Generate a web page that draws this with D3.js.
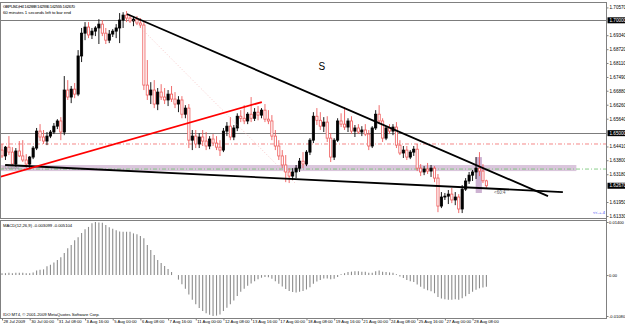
<!DOCTYPE html>
<html>
<head>
<meta charset="utf-8">
<script src="https://cdn.jsdelivr.net/npm/d3@7"></script>
<style>
html, body { margin: 0; padding: 0; background: #fff; }
svg { display: block; font-family: "Liberation Sans", Arial, sans-serif; }
</style>
</head>
<body>
<div id="chart"></div>
<script>
// GBPUSD H4 bars, 28 Jul 16:00 -> 28 Aug 16:00 2009
const opens = [
  1.6425,1.6399,1.6438,1.6416,1.6363,1.6421,1.6399,1.6381,1.6363,1.6394,
  1.6434,1.6509,1.6483,1.6465,1.6487,1.6505,1.6531,1.6554,1.6505,1.6691,
  1.6660,1.6695,1.6673,1.6842,1.6943,1.6970,1.6935,1.6952,1.6966,1.6983,
  1.6943,1.6912,1.6939,1.6952,1.6966,1.7001,1.7023,1.7010,1.6997,1.7005,
  1.6988,1.6979,1.6713,1.6669,1.6691,1.6629,1.6682,1.6660,1.6647,1.6673,
  1.6651,1.6629,1.6647,1.6584,1.6611,1.6469,1.6487,1.6452,1.6483,1.6465,
  1.6443,1.6474,1.6456,1.6438,1.6425,1.6509,1.6531,1.6483,1.6523,1.6575,
  1.6566,1.6554,1.6584,1.6566,1.6593,1.6580,1.6602,1.6562,1.6554,1.6487,
  1.6443,1.6399,1.6359,1.6328,1.6310,1.6328,1.6345,1.6376,1.6363,1.6416,
  1.6469,1.6575,1.6557,1.6531,1.6549,1.6478,1.6394,1.6469,1.6554,1.6540,
  1.6527,1.6554,1.6509,1.6523,1.6505,1.6514,1.6496,1.6443,1.6523,1.6584,
  1.6554,1.6478,1.6523,1.6509,1.6527,1.6447,1.6412,1.6425,1.6394,1.6416,
  1.6429,1.6345,1.6328,1.6341,1.6332,1.6345,1.6301,1.6177,1.6217,1.6221,
  1.6230,1.6204,1.6217,1.6164,1.6252,1.6288,1.6314,1.6328,1.6345,1.6332,1.62888
];
const highs = [
  1.6452,1.6443,1.6487,1.6438,1.6434,1.6465,1.6469,1.6407,1.6399,1.6443,
  1.6523,1.6540,1.6514,1.6505,1.6514,1.6545,1.6562,1.6571,1.6753,1.6735,
  1.6709,1.6722,1.6868,1.6966,1.6992,1.6992,1.6966,1.6974,1.7005,1.7001,
  1.6966,1.6957,1.6961,1.6983,1.7032,1.7036,1.7041,1.7023,1.7019,1.7019,
  1.7010,1.7001,1.6824,1.6726,1.6735,1.6700,1.6717,1.6700,1.6691,1.6709,
  1.6682,1.6664,1.6664,1.6624,1.6629,1.6514,1.6514,1.6500,1.6514,1.6505,
  1.6487,1.6496,1.6487,1.6469,1.6523,1.6549,1.6571,1.6536,1.6588,1.6602,
  1.6624,1.6593,1.6660,1.6611,1.6620,1.6611,1.6629,1.6602,1.6580,1.6514,
  1.6469,1.6425,1.6403,1.6345,1.6345,1.6359,1.6390,1.6416,1.6425,1.6478,
  1.6593,1.6611,1.6593,1.6571,1.6575,1.6500,1.6478,1.6566,1.6588,1.6616,
  1.6566,1.6575,1.6536,1.6540,1.6531,1.6540,1.6514,1.6531,1.6602,1.6624,
  1.6566,1.6531,1.6540,1.6540,1.6549,1.6469,1.6443,1.6443,1.6425,1.6443,
  1.6452,1.6363,1.6354,1.6368,1.6359,1.6354,1.6319,1.6239,1.6235,1.6248,
  1.6257,1.6239,1.6230,1.6270,1.6301,1.6328,1.6337,1.6394,1.6416,1.6363,1.62936
];
const lows = [
  1.6390,1.6381,1.6403,1.6354,1.6350,1.6394,1.6372,1.6345,1.6341,1.6385,
  1.6425,1.6465,1.6452,1.6447,1.6478,1.6496,1.6518,1.6469,1.6491,1.6647,
  1.6633,1.6655,1.6664,1.6815,1.6912,1.6921,1.6917,1.6930,1.6895,1.6930,
  1.6895,1.6899,1.6926,1.6921,1.6899,1.6966,1.6992,1.6988,1.6974,1.6979,
  1.6966,1.6691,1.6647,1.6629,1.6611,1.6602,1.6647,1.6629,1.6620,1.6638,
  1.6611,1.6593,1.6566,1.6566,1.6434,1.6425,1.6434,1.6434,1.6443,1.6425,
  1.6429,1.6443,1.6425,1.6399,1.6416,1.6487,1.6469,1.6469,1.6509,1.6549,
  1.6540,1.6540,1.6549,1.6554,1.6557,1.6566,1.6549,1.6540,1.6469,1.6425,
  1.6381,1.6345,1.6283,1.6279,1.6292,1.6301,1.6328,1.6345,1.6354,1.6403,
  1.6456,1.6536,1.6514,1.6505,1.6461,1.6372,1.6381,1.6461,1.6527,1.6514,
  1.6505,1.6496,1.6483,1.6496,1.6487,1.6487,1.6425,1.6434,1.6514,1.6540,
  1.6461,1.6469,1.6496,1.6491,1.6434,1.6403,1.6390,1.6381,1.6385,1.6399,
  1.6332,1.6310,1.6314,1.6319,1.6306,1.6283,1.6150,1.6168,1.6204,1.6186,
  1.6190,1.6181,1.6146,1.6146,1.6244,1.6275,1.6288,1.6297,1.6310,1.6279,1.62555
];
const closes = [
  1.6399,1.6438,1.6416,1.6363,1.6421,1.6399,1.6381,1.6363,1.6394,1.6434,
  1.6509,1.6483,1.6465,1.6487,1.6505,1.6531,1.6554,1.6505,1.6691,1.6660,
  1.6695,1.6673,1.6842,1.6943,1.6970,1.6935,1.6952,1.6966,1.6983,1.6943,
  1.6912,1.6939,1.6952,1.6966,1.7001,1.7023,1.7010,1.6997,1.7005,1.6988,
  1.6979,1.6713,1.6669,1.6691,1.6629,1.6682,1.6660,1.6647,1.6673,1.6651,
  1.6629,1.6647,1.6584,1.6611,1.6469,1.6487,1.6452,1.6483,1.6465,1.6443,
  1.6474,1.6456,1.6438,1.6425,1.6509,1.6531,1.6483,1.6523,1.6575,1.6566,
  1.6554,1.6584,1.6566,1.6593,1.6580,1.6602,1.6562,1.6554,1.6487,1.6443,
  1.6399,1.6359,1.6328,1.6310,1.6328,1.6345,1.6376,1.6363,1.6416,1.6469,
  1.6575,1.6557,1.6531,1.6549,1.6478,1.6394,1.6469,1.6554,1.6540,1.6527,
  1.6554,1.6509,1.6523,1.6505,1.6514,1.6496,1.6443,1.6523,1.6584,1.6554,
  1.6478,1.6523,1.6509,1.6527,1.6447,1.6412,1.6425,1.6394,1.6416,1.6429,
  1.6345,1.6328,1.6341,1.6332,1.6345,1.6301,1.6177,1.6217,1.6221,1.6230,
  1.6204,1.6217,1.6164,1.6252,1.6288,1.6314,1.6328,1.6345,1.6332,1.6289,1.62670
];

// MACD(12,26,9) main line, in thousandths
const macdMilli = [
  0.5,0.5,0.6,0.5,0.6,0.6,0.6,0.5,0.5,0.7,
  1.2,1.4,1.5,2.3,2.7,3.3,4.0,4.7,5.8,7.1,
  7.9,9.2,10.0,11.1,12.1,12.7,13.7,14.0,13.9,13.8,
  13.2,12.6,12.2,11.8,11.5,11.4,11.4,11.4,11.0,10.8,
  10.3,9.7,7.9,6.6,5.3,4.0,3.2,2.4,1.6,0.8,
  0.0,-1.2,-2.4,-3.6,-5.1,-6.5,-7.7,-8.7,-9.5,-10.1,
  -10.5,-10.8,-10.7,-10.4,-9.5,-8.6,-7.7,-6.7,-5.5,-4.4,
  -3.6,-2.8,-2.2,-1.6,-1.1,-0.7,-0.5,-0.6,-1.0,-1.6,
  -2.3,-3.0,-3.7,-4.2,-4.5,-4.6,-4.4,-4.2,-3.8,-3.2,
  -2.3,-1.7,-1.3,-0.9,-0.9,-1.1,-1.0,-0.5,0.2,0.5,
  0.8,0.9,1.0,1.0,0.9,0.9,0.6,0.6,1.0,1.2,
  0.9,0.8,0.7,0.6,0.2,-0.4,-0.8,-1.3,-1.6,-1.8,
  -2.5,-3.1,-3.6,-4.0,-4.3,-4.8,-5.8,-6.2,-6.4,-6.5,
  -6.5,-6.4,-6.5,-6.1,-5.6,-5.0,-4.4,-3.9,-3.5,-3.3,-3.1
];

// time axis labels (bar index, text)
const labelBars = [0, 8, 16, 24, 32, 40, 48, 56, 64, 72, 80, 88, 96, 104, 112, 120, 128, 136];
const labelTexts = ["28 Jul 2009", "30 Jul 00:00", "31 Jul 08:00", "3 Aug 16:00", "5 Aug 00:00",
  "6 Aug 08:00", "7 Aug 16:00", "11 Aug 00:00", "12 Aug 08:00", "13 Aug 16:00", "17 Aug 00:00",
  "18 Aug 08:00", "19 Aug 16:00", "21 Aug 00:00", "24 Aug 08:00", "25 Aug 16:00", "27 Aug 00:00",
  "28 Aug 08:00"];

// price scale labels
const priceTicks = [1.70570, 1.69340, 1.68720, 1.68110, 1.67490, 1.66880, 1.66260, 1.65640,
  1.64410, 1.63800, 1.63180, 1.61950, 1.61330];
const markedPrices = [1.70000, 1.65000, 1.62670];

// MACD window labels
const macdTicks = [14.0, 0.0, -10.8];
const macdTickTexts = ["0.01400", "0.00", "-0.01080"];

// drawn objects (bar index, price)
const trendDown = [{bar: 36.1, price: 1.7028}, {bar: 157.8, price: 1.6221}];
const trendFlat = [{bar: 0.9, price: 1.6359}, {bar: 162.1, price: 1.6239}];
const trendRed = [{bar: -0.6, price: 1.6306}, {bar: 75.1, price: 1.6638}];
const trendDotted = [{bar: 36.1, price: 1.7028}, {bar: 84.7, price: 1.6279}];
const levelLines = [1.7000, 1.6500];
const redLevel = 1.6452;
const greenLevel = 1.6341;
const zoneBand = {from: -1, to: 166, top: 1.6359, bottom: 1.6332};
const zoneBox = {from: 136.9, to: 138.7, top: 1.6394, bottom: 1.6235};

const W = 625, H = 326;
const axisX = 606.5;
const svg = d3.select("#chart").append("svg")
  .attr("width", W).attr("height", H);

const x = d3.scaleLinear().domain([0, 175]).range([2, 2 + 175 * 3.46]);
const y = d3.scaleLinear().domain([1.6133, 1.7000]).range([216, 20.3]);
const ym = d3.scaleLinear().domain([-10.8, 14.0]).range([316, 222]);

// clip for price window
svg.append("clipPath").attr("id", "priceClip")
  .append("rect").attr("x", 0.5).attr("y", 2.5).attr("width", axisX - 0.5).attr("height", 216);

const price = svg.append("g").attr("clip-path", "url(#priceClip)");

// zones
price.append("rect")
  .attr("x", x(zoneBand.from)).attr("y", y(zoneBand.top))
  .attr("width", x(zoneBand.to) - x(zoneBand.from))
  .attr("height", y(zoneBand.bottom) - y(zoneBand.top))
  .attr("fill", "#dac6dc");
price.append("rect")
  .attr("x", x(zoneBox.from)).attr("y", y(zoneBox.top))
  .attr("width", x(zoneBox.to) - x(zoneBox.from))
  .attr("height", y(zoneBox.bottom) - y(zoneBox.top))
  .attr("fill", "#cdb2d2");

// horizontal levels
price.selectAll(".level").data(levelLines).join("line")
  .attr("x1", 0).attr("x2", axisX)
  .attr("y1", d => Math.round(y(d)) + 0.5).attr("y2", d => Math.round(y(d)) + 0.5)
  .attr("stroke", "#7c7c7c").attr("stroke-width", 1);
price.append("line")
  .attr("x1", 0).attr("x2", axisX)
  .attr("y1", y(redLevel)).attr("y2", y(redLevel))
  .attr("stroke", "#f36a6a").attr("stroke-width", 0.8)
  .attr("stroke-dasharray", "4,2,1,2");
price.append("line")
  .attr("x1", 0).attr("x2", axisX)
  .attr("y1", y(greenLevel)).attr("y2", y(greenLevel))
  .attr("stroke", "#6cc06c").attr("stroke-width", 0.8)
  .attr("stroke-dasharray", "4,2,1,2");

// candles
const bars = d3.range(opens.length);
const bull = i => closes[i] >= opens[i];
price.selectAll(".wick").data(bars).join("line")
  .attr("x1", i => x(i)).attr("x2", i => x(i))
  .attr("y1", i => y(highs[i])).attr("y2", i => y(lows[i]))
  .attr("stroke", i => bull(i) ? "#000" : "#ee5c5c")
  .attr("stroke-width", 0.9);
price.selectAll(".body").data(bars).join("rect")
  .attr("x", i => x(i) - 1.1)
  .attr("y", i => y(Math.max(opens[i], closes[i])))
  .attr("width", 2.2)
  .attr("height", i => Math.max(0.8, Math.abs(y(opens[i]) - y(closes[i]))))
  .attr("fill", i => bull(i) ? "#000" : "#fff")
  .attr("stroke", i => bull(i) ? "#000" : "#ee5c5c")
  .attr("stroke-width", 0.8);

// trendlines
const tl = d3.line().x(d => x(d.bar)).y(d => y(d.price));
price.append("path").attr("d", tl(trendDotted))
  .attr("fill", "none").attr("stroke", "#f4b0b0").attr("stroke-width", 0.7)
  .attr("stroke-dasharray", "1,2");
price.append("path").attr("d", tl(trendDown))
  .attr("fill", "none").attr("stroke", "#000").attr("stroke-width", 1.8);
price.append("path").attr("d", tl(trendFlat))
  .attr("fill", "none").attr("stroke", "#000").attr("stroke-width", 1.8);
price.append("path").attr("d", tl(trendRed))
  .attr("fill", "none").attr("stroke", "#ff0000").attr("stroke-width", 1.8);

// labels inside price window
price.append("text").attr("x", x(91.5)).attr("y", y(1.6778))
  .attr("font-size", 10).attr("fill", "#000").text("S");
price.append("text").attr("x", x(142.2)).attr("y", y(1.6232))
  .attr("font-size", 4.5).attr("fill", "#555").text("<60:4");
price.append("text").attr("x", 2).attr("y", y(1.6343))
  .attr("font-size", 4).attr("fill", "#777").text("#1.63500");
price.append("text").attr("x", 593).attr("y", y(1.6140))
  .attr("font-size", 4).attr("fill", "#3c3cf0").text("<<-+-4");

svg.append("text").attr("x", 3).attr("y", 8)
  .attr("font-size", 4.4).attr("textLength", 72).attr("fill", "#000")
  .text("GBPUSD,H4  1.62888 1.62936 1.62555 1.62670");
svg.append("text").attr("x", 3).attr("y", 14)
  .attr("font-size", 4.4).attr("textLength", 68).attr("fill", "#000")
  .text("60 minutes 1 seconds left to bar end");

// MACD histogram
svg.selectAll(".hist").data(bars).join("line")
  .attr("x1", i => x(i)).attr("x2", i => x(i))
  .attr("y1", ym(0)).attr("y2", i => ym(macdMilli[i]))
  .attr("stroke", "#8c8c8c").attr("stroke-width", 1.1);
svg.append("text").attr("x", 3).attr("y", 227)
  .attr("font-size", 4.2).attr("fill", "#000")
  .text("MACD(12,26,9) -0.003099 -0.005104");
svg.append("text").attr("x", 3).attr("y", 316)
  .attr("font-size", 4.2).attr("fill", "#000")
  .text("IDO MT4, \u00a9 2001-2009 MetaQuotes Software Corp.");

// window frames
svg.append("rect").attr("x", 0.5).attr("y", 2.5).attr("width", axisX - 0.5).attr("height", 216)
  .attr("fill", "none").attr("stroke", "#808080").attr("stroke-width", 1);
svg.append("rect").attr("x", 0.5).attr("y", 220.5).attr("width", axisX - 0.5).attr("height", 98)
  .attr("fill", "none").attr("stroke", "#808080").attr("stroke-width", 1);

// price axis
const yAxis = svg.append("g").attr("transform", `translate(${axisX},0)`)
  .call(d3.axisRight(y).tickValues(priceTicks).tickSize(2).tickFormat(d3.format(".5f")));
yAxis.select(".domain").remove();
yAxis.selectAll("text").attr("x", 3).attr("font-size", 4.6)
  .attr("font-family", "Liberation Sans, Arial, sans-serif").attr("fill", "#000");
yAxis.selectAll("line").attr("stroke", "#808080");

// marked prices (black boxes)
const marks = svg.selectAll(".mark").data(markedPrices).join("g")
  .attr("transform", d => `translate(${axisX},${y(d)})`);
marks.append("rect").attr("x", 1).attr("y", -3).attr("width", 20).attr("height", 6).attr("fill", "#000");
marks.append("text").attr("x", 3).attr("dy", "0.35em").attr("font-size", 4.6)
  .attr("fill", "#fff").text(d => d3.format(".5f")(d));

// MACD axis
const mAxis = svg.append("g").attr("transform", `translate(${axisX},0)`)
  .call(d3.axisRight(ym).tickValues(macdTicks).tickSize(2).tickFormat((d, i) => macdTickTexts[i]));
mAxis.select(".domain").remove();
mAxis.selectAll("text").attr("x", 2.5).attr("font-size", 4.1)
  .attr("font-family", "Liberation Sans, Arial, sans-serif").attr("fill", "#000");
mAxis.selectAll("line").attr("stroke", "#808080");

// vertical axis line
svg.append("line").attr("x1", axisX).attr("x2", axisX).attr("y1", 2).attr("y2", 318.5)
  .attr("stroke", "#808080");

// time axis
const xAxis = svg.append("g").attr("transform", "translate(0,318.5)")
  .call(d3.axisBottom(x).tickValues(labelBars).tickSize(2).tickFormat((d, i) => labelTexts[i]));
xAxis.select(".domain").remove();
xAxis.selectAll("text").attr("text-anchor", "start").attr("x", 1).attr("y", 1.5)
  .attr("font-size", 4.2).attr("font-family", "Liberation Sans, Arial, sans-serif").attr("fill", "#000");
xAxis.selectAll("line").attr("stroke", "#808080");
</script>
</body>
</html>
